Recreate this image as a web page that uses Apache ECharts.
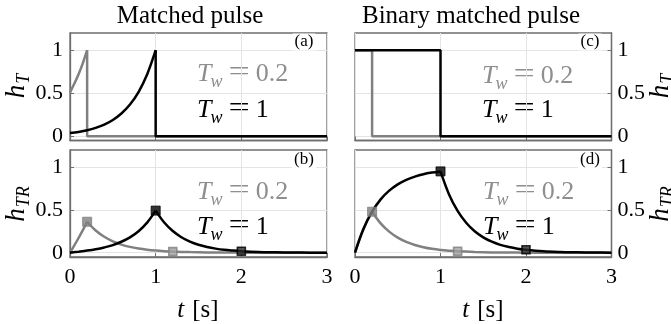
<!DOCTYPE html>
<html>
<head>
<meta charset="utf-8">
<script src="https://cdn.jsdelivr.net/npm/echarts@6/dist/echarts.min.js"></script>
<style>
  html, body { margin: 0; padding: 0; background: #fff; }
  #chart { width: 671px; height: 324px; }
</style>
</head>
<body>
<div id="chart"></div>
<script>
// ---- time grids (s) ----
const tRise02 = [0, 0.05, 0.1, 0.15, 0.2];
const tRise1 = [0, 0.1, 0.2, 0.3, 0.4, 0.5, 0.6, 0.7, 0.8, 0.9, 1];
const tFall02 = [0.2, 0.3, 0.4, 0.5, 0.6, 0.7, 0.8, 0.9, 1.0, 1.1, 1.2, 1.4, 1.6, 1.8, 2.0, 2.5, 3];
const tFall1 = [1, 1.1, 1.2, 1.3, 1.4, 1.5, 1.6, 1.7, 1.8, 1.9, 2.0, 2.2, 2.4, 2.6, 2.8, 3];
const tOff02 = [0.2, 0.2, 3];
const tOff1 = [1, 1, 3];
const hOff = [1, 0, 0];

// ---- (a) matched pulse h_T ----
const hTMatched02 = [0.51, 0.61, 0.72, 0.85, 1];
const hTMatched1 = [0.036, 0.05, 0.069, 0.097, 0.135, 0.189, 0.264, 0.368, 0.513, 0.717, 1];

// ---- (b) matched pulse h_TR ----
const hTRMatched02Rise = [0, 0.085, 0.172, 0.263, 0.362];
const hTRMatched02Fall = [0.362, 0.259, 0.186, 0.133, 0.095, 0.068, 0.049, 0.035, 0.025, 0.018, 0.013, 0.007, 0.003, 0.002, 0.001, 0, 0];
const hTRMatched1Rise = [0, 0.012, 0.025, 0.041, 0.062, 0.089, 0.128, 0.179, 0.251, 0.352, 0.492];
const hTRMatched1Fall = [0.492, 0.353, 0.253, 0.181, 0.130, 0.093, 0.067, 0.048, 0.034, 0.025, 0.018, 0.009, 0.005, 0.002, 0.001, 0];

// ---- (c) binary matched pulse h_T ----
const tBinary02 = [0, 0.2, 0.2, 3];
const tBinary1 = [0, 1, 1, 3];
const hBinary = [1, 1, 0, 0];

// ---- (d) binary matched pulse h_TR ----
const hTRBinary02Rise = [0, 0.151, 0.279, 0.388, 0.479];
const hTRBinary02Fall = [0.479, 0.343, 0.246, 0.176, 0.126, 0.09, 0.065, 0.046, 0.033, 0.024, 0.017, 0.009, 0.004, 0.002, 0.001, 0, 0];
const hTRBinary1Rise = [0, 0.279, 0.479, 0.623, 0.725, 0.799, 0.852, 0.889, 0.917, 0.936, 0.95];
const hTRBinary1Fall = [0.95, 0.681, 0.488, 0.35, 0.251, 0.18, 0.129, 0.092, 0.066, 0.047, 0.034, 0.017, 0.009, 0.005, 0.002, 0.001];

// marker times: end of pulse and one second later
const markTimes02 = [0.2, 1.2];
const markTimes1 = [1, 2];

const xTicks = [0, 1, 2, 3];
const yTicks = [0, 0.5, 1];
const panelTags = ['(a)', '(b)', '(c)', '(d)'];
const titles = ['Matched pulse', 'Binary matched pulse'];

// ---- styling ----
const SERIF = '"Liberation Serif", "DejaVu Serif", serif';
const GRAY = '#808080';
const GRAY_TEXT = '#8e8e8e';
const BLACK = '#000000';
const AXIS = '#6e6e6e';
const GRID_LINE = '#e4e4e4';

const zip = (ts, vs) => ts.map((t, i) => [t, vs[i]]);
const pick = (ts, vs, times) => times.map(t => [t, vs[ts.indexOf(t)]]);

const grids = [
  { left: 70, top: 33, width: 257, height: 107.5 },
  { left: 70, top: 150, width: 257, height: 107 },
  { left: 355, top: 33, width: 256.5, height: 107.5 },
  { left: 355, top: 150, width: 256.5, height: 107 }
].map(g => Object.assign({ show: true, borderColor: AXIS, borderWidth: 1.3, backgroundColor: 'transparent' }, g));

const tickLine = { color: AXIS, width: 1 };
const xAxes = grids.map((g, i) => ({
  gridIndex: i, type: 'value', min: 0, max: 3, interval: 1,
  axisLine: { show: true, onZero: false, lineStyle: { color: AXIS, width: 1.3 } },
  axisTick: { show: true, inside: true, length: 4, lineStyle: tickLine },
  axisLabel: { show: i % 2 === 1, fontFamily: SERIF, fontSize: 22, color: '#000', margin: 9,
               customValues: xTicks },
  splitLine: { show: true, lineStyle: { color: GRID_LINE, width: 1 } }
}));
const yAxes = grids.map((g, i) => ({
  gridIndex: i, type: 'value', min: -0.05, max: 1.2,
  position: i < 2 ? 'left' : 'right',
  axisLine: { show: true, onZero: false, lineStyle: { color: AXIS, width: 1.3 } },
  axisTick: { show: true, inside: true, length: 4, lineStyle: tickLine, customValues: yTicks },
  axisLabel: { fontFamily: SERIF, fontSize: 22, color: '#000', margin: i < 2 ? 7 : 6, customValues: yTicks },
  splitLine: { show: true, lineStyle: { color: GRID_LINE, width: 1 } }
}));

function line(gi, data, color, smooth) {
  return {
    type: 'line', xAxisIndex: gi, yAxisIndex: gi, data: data,
    symbol: 'none', smooth: smooth ? 0.35 : false, clip: true,
    lineStyle: { color: color, width: 2.5 }, z: color === BLACK ? 4 : 3,
    silent: true
  };
}
function markers(gi, pts, fill, border) {
  return [
    { type: 'scatter', xAxisIndex: gi, yAxisIndex: gi, data: [pts[0]], symbol: 'rect', symbolSize: 9,
      itemStyle: { color: fill, borderColor: border, borderWidth: 1 }, z: 6, silent: true },
    { type: 'scatter', xAxisIndex: gi, yAxisIndex: gi, data: [pts[1]], symbol: 'rect', symbolSize: 8,
      itemStyle: { color: fill === BLACK ? '#2a2a2a' : '#a0a0a0', borderColor: border, borderWidth: 1.6 }, z: 6, silent: true }
  ];
}

const series = [
  // (a)
  line(0, zip(tRise02, hTMatched02), GRAY, true),
  line(0, zip(tOff02, hOff), GRAY, false),
  line(0, zip(tRise1, hTMatched1), BLACK, true),
  line(0, zip(tOff1, hOff), BLACK, false),
  // (b)
  line(1, zip(tRise02, hTRMatched02Rise), GRAY, true),
  line(1, zip(tFall02, hTRMatched02Fall), GRAY, true),
  line(1, zip(tRise1, hTRMatched1Rise), BLACK, true),
  line(1, zip(tFall1, hTRMatched1Fall), BLACK, true),
  ...markers(1, pick(tFall02, hTRMatched02Fall, markTimes02), GRAY, GRAY),
  ...markers(1, pick(tFall1, hTRMatched1Fall, markTimes1), BLACK, BLACK),
  // (c)
  line(2, zip(tBinary02, hBinary), GRAY, false),
  line(2, zip(tBinary1, hBinary), BLACK, false),
  // (d)
  line(3, zip(tRise02, hTRBinary02Rise), GRAY, true),
  line(3, zip(tFall02, hTRBinary02Fall), GRAY, true),
  line(3, zip(tRise1, hTRBinary1Rise), BLACK, true),
  line(3, zip(tFall1, hTRBinary1Fall), BLACK, true),
  ...markers(3, pick(tFall02, hTRBinary02Fall, markTimes02), GRAY, GRAY),
  ...markers(3, pick(tFall1, hTRBinary1Fall, markTimes1), BLACK, BLACK)
];

// ---- typeset helpers for math-style labels ----
const measureCtx = document.createElement('canvas').getContext('2d');
function fontOf(p) {
  return (p.italic ? 'italic ' : '') + p.size + 'px ' + (p.family || SERIF);
}
function mathGroup(x, y, parts, color, opts) {
  opts = opts || {};
  let cx = 0;
  const children = [];
  parts.forEach(p => {
    cx += p.pre || 0;
    const sx = p.sx || 1;
    children.push({
      type: 'text', x: cx, y: p.dy || 0, scaleX: sx, silent: true,
      style: { text: p.t, font: fontOf(p), fill: color, textAlign: 'left', textVerticalAlign: 'middle' }
    });
    measureCtx.font = fontOf(p);
    cx += measureCtx.measureText(p.t).width * sx;
  });
  const shift = opts.anchor === 'left' ? 0 : -cx / 2;
  children.forEach(c => { c.x += shift; });
  return { type: 'group', x: x, y: y, rotation: opts.rotation || 0, children: children, z: 20 };
}
const twParts = (val) => [
  { t: 'T', size: 26, italic: true },
  { t: 'w', size: 18, italic: true, dy: 8, pre: -1 },
  { t: '=', size: 28, sx: 1.35, pre: 6, dy: -1 },
  { t: val, size: 26, pre: 6 }
];
const hParts = (sub) => [
  { t: 'h', size: 27, italic: true },
  { t: sub, size: 18, italic: true, dy: 7, pre: 1 }
];
const tLabelParts = [
  { t: 't', size: 25, italic: true },
  { t: '[s]', size: 25, pre: 8 }
];

const twPos = [
  [197, 74, 110], [197, 192, 227], [482, 76, 110], [483, 192, 227]
];
const tagPos = [[304, 42], [304, 160], [590, 42], [590, 160]];

const graphic = [];
twPos.forEach(p => {
  graphic.push(mathGroup(p[0], p[1], twParts('0.2'), GRAY_TEXT, { anchor: 'left' }));
  graphic.push(mathGroup(p[0], p[2], twParts('1'), BLACK, { anchor: 'left' }));
});
tagPos.forEach((p, i) => {
  graphic.push({
    type: 'text', x: p[0], y: p[1], z: 15, silent: true,
    style: { text: panelTags[i], font: '17px ' + SERIF, fill: '#000', textAlign: 'center', textVerticalAlign: 'middle',
             backgroundColor: '#fff', padding: [0, 2, 0, 2] }
  });
});
graphic.push({ type: 'text', x: 190, y: 16, silent: true,
  style: { text: titles[0], font: '25px ' + SERIF, fill: '#000', textAlign: 'center', textVerticalAlign: 'middle' } });
graphic.push({ type: 'text', x: 471, y: 16, silent: true,
  style: { text: titles[1], font: '25px ' + SERIF, fill: '#000', textAlign: 'center', textVerticalAlign: 'middle' } });
graphic.push(mathGroup(198, 310, tLabelParts, '#000'));
graphic.push(mathGroup(483, 310, tLabelParts, '#000'));
graphic.push(mathGroup(17, 86, hParts('T'), '#000', { rotation: Math.PI / 2 }));
graphic.push(mathGroup(17, 204, hParts('TR'), '#000', { rotation: Math.PI / 2 }));
graphic.push(mathGroup(661, 86, hParts('T'), '#000', { rotation: Math.PI / 2 }));
graphic.push(mathGroup(661, 204, hParts('TR'), '#000', { rotation: Math.PI / 2 }));

const chart = echarts.init(document.getElementById('chart'), null, { renderer: 'canvas' });
chart.setOption({
  animation: false,
  backgroundColor: '#fff',
  grid: grids,
  xAxis: xAxes,
  yAxis: yAxes,
  series: series,
  graphic: graphic
});
</script>
</body>
</html>
